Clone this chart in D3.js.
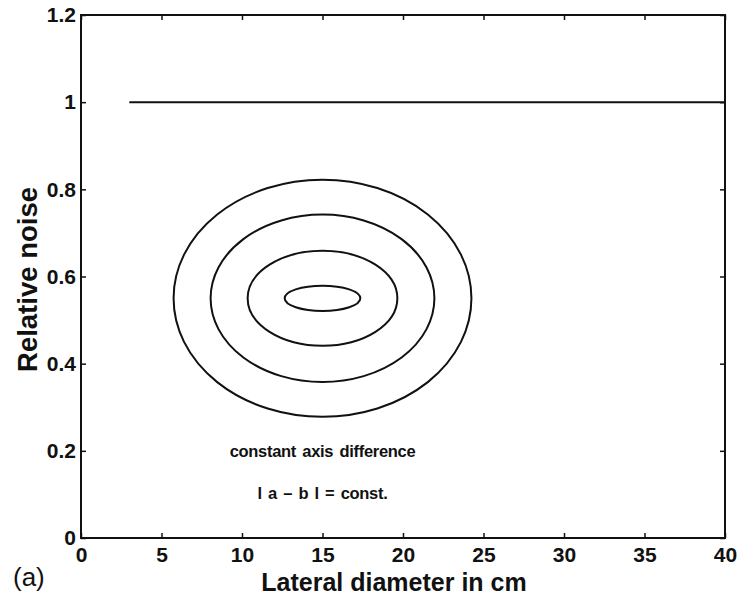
<!DOCTYPE html>
<html>
<head>
<meta charset="utf-8">
<script src="https://cdn.jsdelivr.net/npm/d3@7"></script>
<style>
  html, body { margin: 0; padding: 0; background: #fff; }
  svg { display: block; }
  text { font-family: "Liberation Sans", Arial, Helvetica, sans-serif; fill: #111; }
</style>
</head>
<body>
<svg id="chart" width="740" height="599"></svg>
<script>
// Axis ticks
const xTicks = [0, 5, 10, 15, 20, 25, 30, 35, 40];
const yTicks = [0, 0.2, 0.4, 0.6, 0.8, 1, 1.2];
const yTickLabels = ["0", "0.2", "0.4", "0.6", "0.8", "1", "1.2"];

// Reference level (relative noise = 1)
const refLineX = [3, 40];
const refLineY = [1, 1];

// Iso-noise ellipses with constant axis difference, centred at (15, 0.55)
const ellipseCenterX = 15;
const ellipseCenterY = 0.55;
const ellipseSemiX = [2.35, 4.65, 6.95, 9.25];     // cm
const ellipseSemiY = [0.029, 0.109, 0.192, 0.272]; // relative noise

// Annotation
const noteLines = ["constant axis difference", "l a \u2013 b l = const."];
const noteX = [15, 15];
const noteY = [0.195, 0.10];

const svg = d3.select("#chart");
const margin = { left: 81, top: 15, right: 15, bottom: 61 };
const W = 740, H = 599;

const x = d3.scaleLinear().domain([0, 40]).range([margin.left, W - margin.right]);
const y = d3.scaleLinear().domain([0, 1.2]).range([H - margin.bottom, margin.top]);

const tickLen = 5;
const axisColor = "#111";

// Bottom axis (ticks inward)
const gx = svg.append("g").attr("transform", `translate(0,${y(0)})`)
  .call(d3.axisBottom(x).tickValues(xTicks).tickSize(-tickLen).tickPadding(11)
    .tickFormat(d3.format("d")));
gx.select(".domain").remove();
gx.selectAll("line").attr("stroke", axisColor).attr("stroke-width", 1.5);
gx.selectAll("text").attr("font-size", 21).attr("font-weight", "bold").attr("dy", "0.6em");

// Top axis ticks
const gxt = svg.append("g").attr("transform", `translate(0,${y(1.2)})`)
  .call(d3.axisTop(x).tickValues(xTicks).tickSize(-tickLen).tickFormat(""));
gxt.select(".domain").remove();
gxt.selectAll("line").attr("stroke", axisColor).attr("stroke-width", 1.5);

// Left axis
const gy = svg.append("g").attr("transform", `translate(${x(0)},0)`)
  .call(d3.axisLeft(y).tickValues(yTicks).tickSize(-tickLen).tickPadding(5)
    .tickFormat((d, i) => yTickLabels[i]));
gy.select(".domain").remove();
gy.selectAll("line").attr("stroke", axisColor).attr("stroke-width", 1.5);
gy.selectAll("text").attr("font-size", 21).attr("font-weight", "bold");

// Right axis ticks
const gyr = svg.append("g").attr("transform", `translate(${x(40)},0)`)
  .call(d3.axisRight(y).tickValues(yTicks).tickSize(-tickLen).tickFormat(""));
gyr.select(".domain").remove();
gyr.selectAll("line").attr("stroke", axisColor).attr("stroke-width", 1.5);

// Plot frame
svg.append("rect")
  .attr("x", x(0)).attr("y", y(1.2))
  .attr("width", x(40) - x(0)).attr("height", y(0) - y(1.2))
  .attr("fill", "none").attr("stroke", axisColor).attr("stroke-width", 2);

// Reference line
svg.append("line")
  .attr("x1", x(refLineX[0])).attr("x2", x(refLineX[1]))
  .attr("y1", y(refLineY[0])).attr("y2", y(refLineY[1]))
  .attr("stroke", "#111").attr("stroke-width", 2);

// Ellipses
svg.append("g").selectAll("ellipse")
  .data(ellipseSemiX.map((a, i) => ({ a, b: ellipseSemiY[i] })))
  .join("ellipse")
  .attr("cx", x(ellipseCenterX))
  .attr("cy", y(ellipseCenterY))
  .attr("rx", d => x(ellipseCenterX + d.a) - x(ellipseCenterX))
  .attr("ry", d => y(ellipseCenterY) - y(ellipseCenterY + d.b))
  .attr("fill", "none").attr("stroke", "#111").attr("stroke-width", 2);

// Annotation text
svg.append("g").selectAll("text")
  .data(noteLines)
  .join("text")
  .attr("x", (d, i) => x(noteX[i]))
  .attr("y", (d, i) => y(noteY[i]))
  .attr("text-anchor", "middle")
  .attr("dominant-baseline", "middle")
  .attr("font-size", 16.5)
  .attr("font-weight", "bold")
  .attr("letter-spacing", -0.3)
  .attr("word-spacing", 2)
  .text(d => d);

// Axis titles
svg.append("text")
  .attr("x", (x(0) + x(40)) / 2 - 9)
  .attr("y", 591)
  .attr("text-anchor", "middle")
  .attr("font-size", 25)
  .attr("font-weight", "bold")
  .text("Lateral diameter in cm");

svg.append("text")
  .attr("transform", `translate(37,${(y(0) + y(1.2)) / 2 + 3}) rotate(-90)`)
  .attr("text-anchor", "middle")
  .attr("font-size", 27.5)
  .attr("font-weight", "bold")
  .text("Relative noise");

// Panel tag
svg.append("text")
  .attr("x", 13).attr("y", 586)
  .attr("font-size", 26)
  .text("(a)");
</script>
</body>
</html>
